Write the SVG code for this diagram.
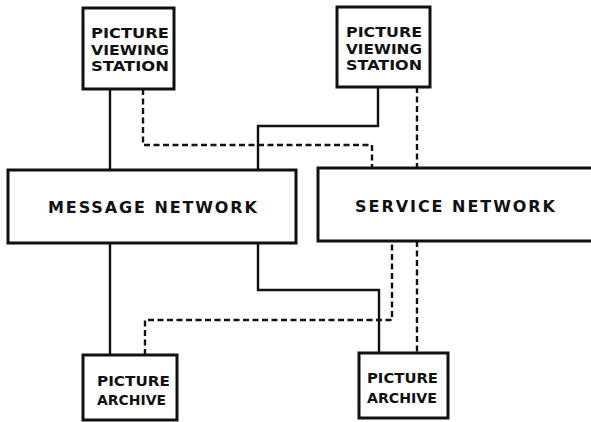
<svg xmlns="http://www.w3.org/2000/svg" width="591" height="422" viewBox="0 0 591 422">
<style>
.box{fill:#fff;stroke:#111;stroke-width:3}
.ln{fill:none;stroke:#111;stroke-width:2.4}
.dash{fill:none;stroke:#111;stroke-width:2.4;stroke-dasharray:6 3.5}
.t{font-family:"DejaVu Sans","Liberation Sans",sans-serif;font-weight:bold;font-size:14px;fill:#111}
.n{font-size:16px}
</style>
<rect width="591" height="422" fill="#fff"/>
<g id="connectors">
<path class="ln" d="M110 89V170"/>
<path class="dash" d="M143 89V145H372V169"/>
<path class="ln" d="M378 87V126H258V170"/>
<path class="dash" d="M417 87V169"/>
<path class="ln" d="M110 243V355"/>
<path class="dash" d="M145 355V320H392V241"/>
<path class="ln" d="M258 243V290H379V353"/>
<path class="dash" d="M417 241V353"/>
</g>
<g id="pvs1">
<rect class="box" x="83" y="8" width="91" height="81"/>
<text class="t" x="91" y="38" textLength="78" lengthAdjust="spacingAndGlyphs">PICTURE</text>
<text class="t" x="91" y="54.5" textLength="78" lengthAdjust="spacingAndGlyphs">VIEWING</text>
<text class="t" x="91" y="71" textLength="78" lengthAdjust="spacingAndGlyphs">STATION</text>
</g>
<g id="pvs2">
<rect class="box" x="337" y="7" width="93" height="80"/>
<text class="t" x="346" y="37" textLength="76" lengthAdjust="spacingAndGlyphs">PICTURE</text>
<text class="t" x="346" y="53.5" textLength="76" lengthAdjust="spacingAndGlyphs">VIEWING</text>
<text class="t" x="346" y="70" textLength="76" lengthAdjust="spacingAndGlyphs">STATION</text>
</g>
<g id="message-network">
<rect class="box" x="8" y="170" width="288" height="73"/>
<text class="t n" x="48" y="213" textLength="209" lengthAdjust="spacing">MESSAGE NETWORK</text>
</g>
<g id="service-network">
<path class="box" d="M600 168H318V241H600"/>
<text class="t n" x="355" y="212" textLength="200" lengthAdjust="spacing">SERVICE NETWORK</text>
</g>
<g id="archive1">
<rect class="box" x="83" y="355" width="94" height="65"/>
<text class="t" x="97" y="386" textLength="73" lengthAdjust="spacingAndGlyphs">PICTURE</text>
<text class="t" x="97" y="405" textLength="69" lengthAdjust="spacingAndGlyphs">ARCHIVE</text>
</g>
<g id="archive2">
<rect class="box" x="359" y="353" width="89" height="65"/>
<text class="t" x="367" y="383" textLength="71" lengthAdjust="spacingAndGlyphs">PICTURE</text>
<text class="t" x="367" y="403" textLength="70" lengthAdjust="spacingAndGlyphs">ARCHIVE</text>
</g>
</svg>
